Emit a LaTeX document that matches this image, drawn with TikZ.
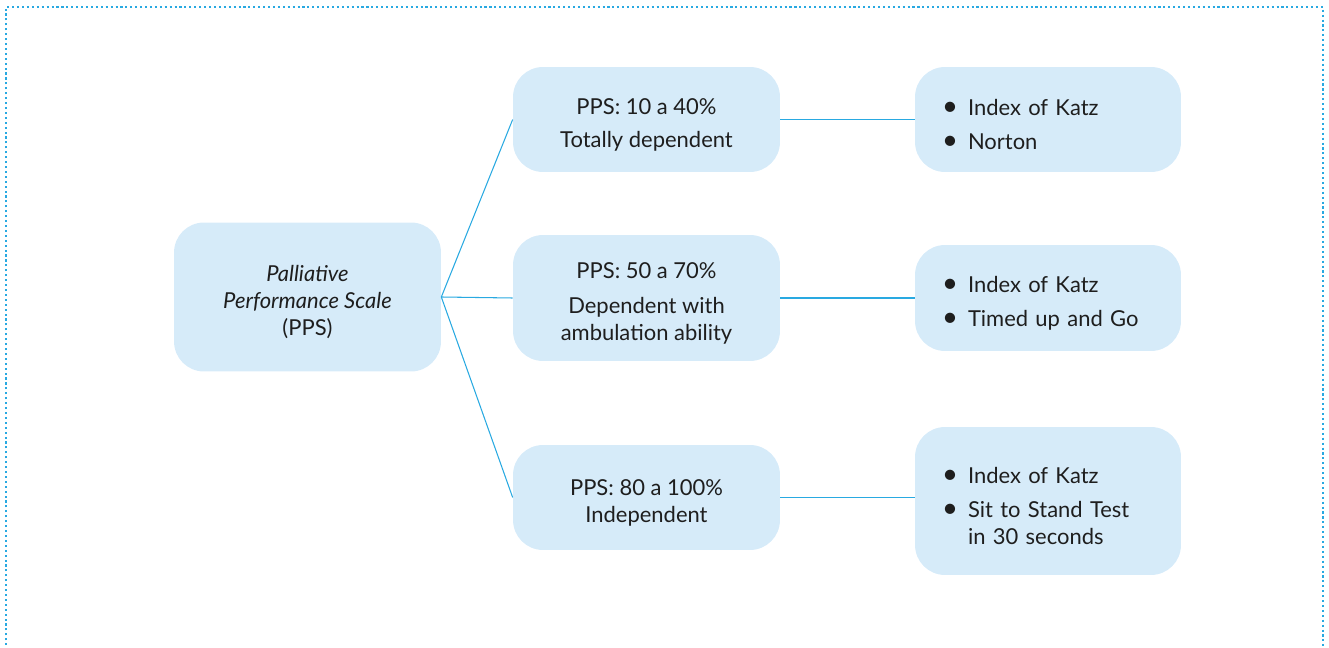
\documentclass[tikz,border=0pt]{standalone}
\usepackage{fontspec}
\usepackage{graphicx}
\setmainfont{Lato}
\usetikzlibrary{positioning}
\definecolor{boxblue}{HTML}{D6EBF9}
\definecolor{lineblue}{HTML}{29A9E1}
\definecolor{inkgrey}{HTML}{1E1E1E}
\newcommand{\bul}{\makebox[0.42cm][l]{\hspace{-0.1cm}\scalebox{1.25}{\textbullet}}}
\newcommand{\lift}{\rule{0pt}{0.54cm}}
\begin{document}
\begin{tikzpicture}[
        x=0.02cm, y=-0.02cm,
        box/.style={rectangle, fill=boxblue, rounded corners=0.6cm, text centered, align=center, text=inkgrey,
            minimum width=5.34cm, inner sep=0pt, font=\fontsize{12.5}{15.4}\selectfont},
        listbox/.style={rectangle, fill=boxblue, rounded corners=0.6cm, align=left, text=inkgrey,
            text width=4.04cm, inner xsep=0.64cm, inner ysep=0pt, font=\fontsize{12.5}{15.4}\selectfont},
        link/.style={draw=lineblue, line width=0.6pt}
    ]

        \useasboundingbox (0,0) rectangle (1329,648);
        % dotted frame, open at the bottom
        \draw[lineblue, line width=1.1pt, dash pattern=on 1.2pt off 1.6pt] (6,660) -- (6,7) -- (1323,7) -- (1323,660);

        % root
        \node[box, minimum height=2.98cm] (pps) at (307.5,297) {\lift\textit{Palliative}\\\textit{Performance Scale}\\(PPS)};

        % PPS ranges
        \node[box, minimum height=2.1cm] (low) at (646.5,119.5) {\lift PPS: 10 a 40\%\\[0.12cm]Totally dependent};
        \node[box, minimum height=2.52cm] (mid) at (646.5,298) {\lift PPS: 50 a 70\%\\[0.16cm]Dependent with\\ambulation ability};
        \node[box, minimum height=2.1cm] (high) at (646.5,497.5) {\lift PPS: 80 a 100\%\\Independent};

        % scales
        \node[listbox, minimum height=2.1cm] (low_scales) at (1048,119.5) {\lift\bul Index of Katz\\[0.14cm]\bul Norton};
        \node[listbox, minimum height=2.12cm] (mid_scales) at (1048,298) {\lift\bul Index of Katz\\[0.14cm]\bul Timed up and Go};
        \node[listbox, minimum height=2.96cm] (high_scales) at (1048,501) {\lift\bul Index of Katz\\[0.14cm]\bul Sit to Stand Test\\\hspace*{0.42cm}in 30 seconds};

        \draw[link] (pps.east) -- (low.west);
        \draw[link] (pps.east) -- (mid.west);
        \draw[link] (pps.east) -- (high.west);
        \draw[link] (low.east) -- (low.east -| low_scales.west);
        \draw[link] (mid.east) -- (mid.east -| mid_scales.west);
        \draw[link] (high.east) -- (high.east -| high_scales.west);

    \end{tikzpicture}
\end{document}
